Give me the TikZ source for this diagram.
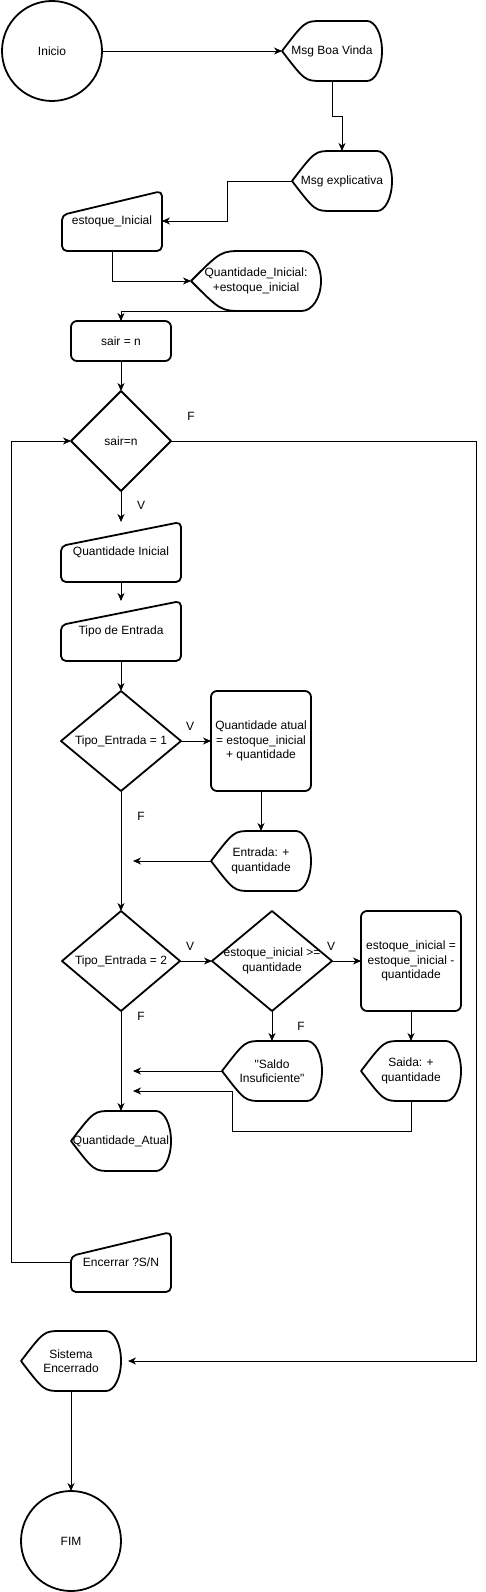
\documentclass[tikz,border=0pt]{standalone}
\usepackage{fontspec}
\setmainfont{Liberation Sans}
\usetikzlibrary{calc, shapes.geometric, arrows.meta}

\begin{document}
\begin{tikzpicture}[x=1pt, y=-1pt,
    font=\fontsize{12}{14.5}\selectfont,
    every node/.style={inner sep=0pt, outer sep=0pt, align=center},
    shp/.style={line width=1.8pt, line join=round},
    arr/.style={line width=0.9pt, -{Stealth[length=8pt, width=7pt, inset=2.5pt]}},
    term/.style={circle, draw, shp, minimum size=100pt},
    proc/.style={rectangle, draw, shp, rounded corners=6pt, minimum width=100pt},
    decision/.style={diamond, draw, shp, minimum width=#1, minimum height=100pt},
    disp/.style={rectangle, minimum width=#1, minimum height=60pt},
    disp/.default=100pt,
    inbox/.style={rectangle, minimum width=#1, minimum height=60pt},
    inbox/.default=100pt]

    \useasboundingbox (0,0) rectangle (485,1592);

    \node (ini) [term] at (52,51) {Inicio};
    \node (boa) [disp] at (332,51) {Msg Boa Vinda};
    \node (expl) [disp] at (342,181) {Msg explicativa};
    \node (estq) [inbox] at (112,221) {estoque\_Inicial};
    \node (qini) [disp=130pt] at (256,281) {Quantidade\_Inicial:\\+estoque\_inicial};
    \node (sair) [proc, minimum height=40pt] at (121,341) {sair = n};
    \node (d0) [decision=100pt, label=center:{sair=n}] at (121,441) {};
    \node (qin) [inbox=120pt] at (121,552) {Quantidade Inicial};
    \node (tipo) [inbox=120pt] at (121,631) {Tipo de Entrada};
    \node (d1) [decision=120pt, label=center:{Tipo\_Entrada = 1}] at (121,741) {};
    \node (qatual) [proc, minimum height=100pt] at (261,741) {Quantidade atual\\= estoque\_inicial\\+ quantidade};
    \node (ent) [disp] at (261,861) {Entrada: +\\quantidade};
    \node (d2) [decision=118pt, label=center:{Tipo\_Entrada = 2}] at (121,961) {};
    \node (d3) [decision=120pt, label=center:{estoque\_inicial >=\\quantidade}] at (272,961) {};
    \node (ebox) [proc, minimum height=100pt] at (411,961) {estoque\_inicial =\\estoque\_inicial -\\quantidade};
    \node (saldo) [disp] at (272,1071) {\textquotedbl Saldo\\Insuficiente\textquotedbl};
    \node (saida) [disp] at (411,1071) {Saida: +\\quantidade};
    \node (qatu) [disp] at (121,1141) {Quantidade\_Atual};
    \node (encer) [inbox] at (121,1262) {Encerrar ?S/N};
    \node (sisenc) [disp] at (71,1361) {Sistema\\Encerrado};
    \node (fim) [term] at (71,1541) {FIM};

    % display outlines
    \foreach \n in {boa, expl, qini, ent, saldo, saida, qatu, sisenc}
        {
            \draw [shp] (\n.west)
                .. controls ($(\n.north west)!.23!(\n.north east)$) .. ($(\n.north west)!.4!(\n.north east)$)
                -- ($(\n.north west)!.85!(\n.north east)$)
                .. controls ($(\n.north west)!.933!(\n.north east)$) and ($(\n.north east)!.448!(\n.east)$) .. (\n.east)
                .. controls ($(\n.south east)!.448!(\n.east)$) and ($(\n.south west)!.933!(\n.south east)$) .. ($(\n.south west)!.85!(\n.south east)$)
                -- ($(\n.south west)!.4!(\n.south east)$)
                .. controls ($(\n.south west)!.23!(\n.south east)$) .. (\n.west) -- cycle;
        }

    % manual input outlines
    \foreach \n in {estq, qin, tipo, encer}
        {
            \draw [shp, rounded corners=5pt] (\n.south west) -- ($(\n.north west)!.4!(\n.south west)$)
                -- (\n.north east) -- (\n.south east) -- cycle;
        }

    \coordinate (e1) at (133,861);
    \coordinate (e2) at (133,1071);
    \coordinate (e3) at (133,1091);

    \draw [arr] (ini.east) -- (boa.west);
    \draw [arr] (boa.south) -- ++(0,35) -| (expl.north);
    \draw [arr] (expl.west) -- ++(-65,0) |- (estq.east);
    \draw [arr] (estq.south) |- (qini.west);
    \draw [arr] (qini.south) -| (sair.north);
    \draw [arr] (sair.south) -- (d0.north);
    \draw [arr] (d0.south) -- (qin.north);
    \draw [arr] (qin.south) -- (tipo.north);
    \draw [arr] (tipo.south) -- (d1.north);
    \draw [arr] (d1.east) -- (qatual.west);
    \draw [arr] (qatual.south) -- (ent.north);
    \draw [arr] (ent.west) -- (e1);
    \draw [arr] (d1.south) -- (d2.north);
    \draw [arr] (d2.east) -- (d3.west);
    \draw [arr] (d3.east) -- (ebox.west);
    \draw [arr] (ebox.south) -- (saida.north);
    \draw [arr] (d3.south) -- (saldo.north);
    \draw [arr] (saldo.west) -- (e2);
    \draw [arr] (saida.south) -- ++(0,30) -| ++(-179,-40) -- (e3);
    \draw [arr] (d2.south) -- (qatu.north);
    \draw [arr] (encer.west) -- ++(-60,0) |- (d0.west);
    \draw [arr, shorten >=7pt] (d0.east) -- ++(305,0) |- (sisenc.east);
    \draw [arr] (sisenc.south) -- (fim.north);

    \node (f0) at (191,416) {F};
    \node (v0) at (141,505) {V};
    \node (v1) at (190,726) {V};
    \node (f1) at (141,816) {F};
    \node (v2) at (190,946) {V};
    \node (f2) at (141,1016) {F};
    \node (v3) at (331,946) {V};
    \node (f3) at (301,1026) {F};

\end{tikzpicture}
\end{document}
